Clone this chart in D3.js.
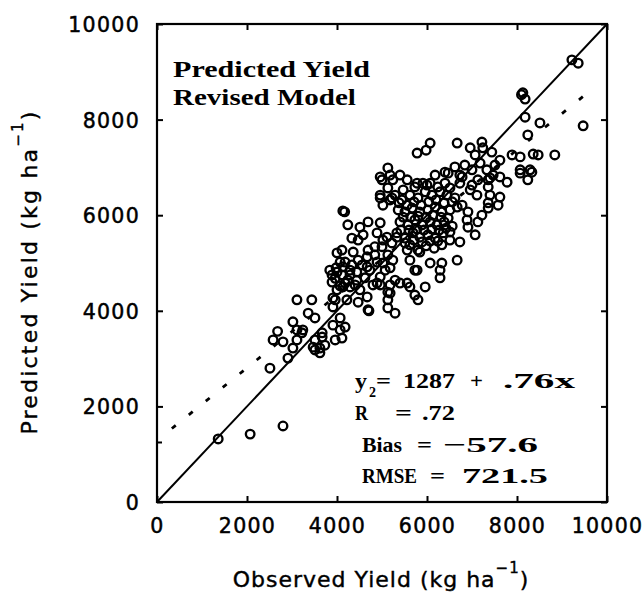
<!DOCTYPE html>
<html><head><meta charset="utf-8">
<script src="https://cdn.jsdelivr.net/npm/d3@7"></script>
<style>body{margin:0;background:#fff}svg{display:block}</style>
</head><body><svg id="c" width="644" height="595"></svg>
<script>
// ---------------- data ----------------
const xTicks = [0, 2000, 4000, 6000, 8000, 10000];
const yTicks = [0, 2000, 4000, 6000, 8000, 10000];
const observed = [
 1360,2070,2800,2510,2910,3020,3110,2800,2580,2680,3020,3110,3240,3360,3510,3110,3440,3670,3470,3620,3730,3620,3960,4110,4070,4180,4070,3910,3670,3960,4000,3910,4130,4470,4690,4670,4890,3910,4220,4960,5180,5130,5130,5290,3220,3510,3510,
 3840,3980,4110,4240,3890,4070,4290,4400,4180,3890,4000,4130,4290,4440,4000,4110,4360,4470,4670,4840,5020,5020,4670,
 4560,4730,4890,5070,4620,4800,4510,4960,5180,5240,5000,5220,4890,5110,5330,5560,5620,5780,5400,5620,5960,4290,
 4130,4170,4240,4510,4690,4960,4330,4470,4580,
 5130,5240,5130,4960,5020,5180,5000,5400,5560,5180,5780,6000,4960,5220,4960,
 5290,5440,5620,5800,5960,6110,6290,6440,6620,5360,5510,5670,5840,6020,6180,6330,6510,6670,5400,5580,5730,5890,6070,6220,6380,6560,5330,5510,5690,5840,6020,6180,6360,6510,5620,5800,5980,6160,6330,5470,5730,5910,6240,6510,
 6180,6470,6780,6070,6400,6730,7000,7360,7620,7780,8070,8240,7110,7400,7620,7360,7580,6910,6890,7130,6910,6730,6510,6670,6330,6070,6290,6290,5730,5840,5730,5560,5800,
 9220,9360,8130,8180,8100,8180,8510,8240,9470,8840,8360,8470,8290,7890,8070,7620,6670,6070,6960,7220,7240,7070,7440,6620,6400,5980,5780,8070,8330,7470,7360,7130,7360,6840,7000,7180,7330,7510,6730,7400,5180,4710,
 5380,5560,5710,5870,6040,6200,6380,6560,5470,5640,5800,5980,6130,6310,6470,5420,5600,5780,5930,6110,6270,6420,5510,5710,5890,6070,6240,
 3960,4180,4330,4070,4440,4690,4840,5130,5290,5130,6780,6960,7220,7070
];
const predicted = [
 1320,1420,1590,2800,3010,3220,3390,3350,3390,3570,3770,3600,3600,3950,3850,4230,4230,3450,3240,3220,3280,3120,3390,3430,3600,3660,3850,3700,3540,4230,4440,4080,4500,4180,4020,4290,4580,4270,4230,4540,4540,4230,4060,3950,3540,3390,3180,
 4850,4900,4750,4640,4600,4520,4850,4540,5020,4750,4810,4920,4750,4640,5210,5270,5230,5060,5130,5340,5480,5000,4920,
 4960,4850,5020,4850,4690,4540,4440,4710,4900,5060,5340,5420,5630,5540,5630,5270,5060,4850,4580,4500,4500,4500,
 6090,6070,5800,5750,5860,5840,5520,5480,5590,
 6990,6740,6570,6360,6210,6320,6740,6840,6740,6840,6670,6630,6800,6360,6420,
 6420,6320,6420,6360,6490,6420,6490,6420,6360,6110,6070,6150,6070,6110,6170,6070,6110,6170,5860,5800,5900,5800,5860,5800,5860,5770,5540,5520,5630,5540,5590,5520,5630,5650,5380,5270,5360,5310,5380,6530,6590,6670,6590,6570,
 6840,6880,6800,6670,6670,6670,6630,6740,6800,6690,6880,6740,6420,6420,6380,6260,6210,6070,5900,5860,5750,5440,5480,5060,5000,5000,4850,4690,4850,5230,4330,4580,4230,
 9250,9180,8560,8430,8520,8050,7930,7680,7870,7260,7280,7260,6950,7260,7220,7150,7510,7510,7410,7530,7410,7260,7320,7010,6900,7360,7300,6950,6900,6840,6590,6740,6150,7050,6950,7090,6950,7050,6840,6780,4370,4000,
 6260,6210,6280,6210,6280,6320,6260,6280,5960,5960,5980,5960,6000,5960,5940,5690,5690,5710,5690,5710,5690,5730,5420,5480,5440,5460,5460,
 4680,4580,4960,5020,4810,5270,5170,5170,4640,4390,6210,6530,6000,5590
];
const fitIntercept = 1287, fitSlope = 0.76;
const fitRange = [330, 9750];
const oneToOne = [0, 10000];
const titleLines = ["Predicted Yield", "Revised Model"];
const xTitle = ["Observed Yield (kg ha", "\u22121", ")"];
const yTitle = ["Predicted Yield (kg ha", "\u22121", ")"];

// ---------------- layout ----------------
const svg = d3.select("#c");
const L = 157, R = 607, T = 24, B = 502;
const x = d3.scaleLinear().domain([0, 10000]).range([L, R]);
const y = d3.scaleLinear().domain([0, 10000]).range([B, T]);
const sans = "'DejaVu Sans', sans-serif";
const serif = "'Liberation Serif', serif";

function styleAxis(g) {
  g.select(".domain").remove();
  g.selectAll(".tick line").attr("stroke", "#000").attr("stroke-width", 2);
  g.attr("font-family", sans).attr("font-size", 20.5);
  g.selectAll("text").attr("fill", "#000").attr("stroke", "#000").attr("stroke-width", 0.5).attr("letter-spacing", 1.3);
}
const gB = svg.append("g").attr("transform", `translate(0,${B})`)
  .call(d3.axisBottom(x).tickValues(xTicks).tickSizeInner(-6).tickSizeOuter(0).tickFormat(d3.format("d")));
styleAxis(gB);
gB.selectAll("text").attr("y", 31).attr("dy", null);

const gL = svg.append("g").attr("transform", `translate(${L},0)`)
  .call(d3.axisLeft(y).tickValues(yTicks).tickSizeInner(-6).tickSizeOuter(0).tickFormat(d3.format("d")));
styleAxis(gL);
gL.selectAll("text").attr("x", -17).attr("dy", null).attr("y", 7.5);

const gT = svg.append("g").attr("transform", `translate(0,${T})`)
  .call(d3.axisTop(x).tickValues(xTicks).tickSizeInner(-6).tickSizeOuter(0).tickFormat(() => ""));
styleAxis(gT);
const gR = svg.append("g").attr("transform", `translate(${R},0)`)
  .call(d3.axisRight(y).tickValues(yTicks).tickSizeInner(-6).tickSizeOuter(0).tickFormat(() => ""));
styleAxis(gR);
// small intercept mark on the left axis
svg.append("line").attr("x1", L).attr("x2", L + 5).attr("y1", y(fitIntercept) + 2).attr("y2", y(fitIntercept) + 2)
  .attr("stroke", "#000").attr("stroke-width", 2);

svg.append("rect").attr("x", L).attr("y", T).attr("width", R - L).attr("height", B - T)
  .attr("fill", "none").attr("stroke", "#000").attr("stroke-width", 2.2);

// lines
const line = d3.line().x(d => x(d[0])).y(d => y(d[1]));
svg.append("path").datum(oneToOne.map(v => [v, v])).attr("d", line)
  .attr("stroke", "#000").attr("stroke-width", 2).attr("fill", "none");
svg.append("path").datum(fitRange.map(v => [v, fitIntercept + fitSlope * v])).attr("d", line)
  .attr("stroke", "#000").attr("stroke-width", 2.8).attr("fill", "none")
  .attr("stroke-dasharray", "5,16.8");

// points
svg.append("g").selectAll("circle").data(observed.map((o, i) => [o, predicted[i]])).join("circle")
  .attr("cx", d => x(d[0])).attr("cy", d => y(d[1])).attr("r", 4.3)
  .attr("fill", "none").attr("stroke", "#000").attr("stroke-width", 2.35);

// helper: serif text horizontally scaled to a target width
function fitText(parent, px, py, str, width, size) {
  const t = parent.append("text").attr("x", 0).attr("y", 0).attr("font-family", serif)
    .attr("font-weight", "bold").attr("font-size", size).text(str);
  const w = t.node().getComputedTextLength();
  const sx = width && w ? width / w : 1;
  t.attr("transform", `translate(${px},${py}) scale(${sx},1)`);
  return t;
}

// title in plot
fitText(svg, 173, 77, titleLines[0], 197, 22.5);
fitText(svg, 173, 105, titleLines[1], 183, 22.5);

// stats block
const stats = [
  [355, 388, "y", 12], [376, 388, "=", 15], [403, 388, "1287", 52], [470, 388, "+", 13], [503, 388, ".76x", 72],
  [355, 420, "R", 13], [395, 420, "=", 17], [422, 420, ".72", 33],
  [362, 452, "Bias", 40], [417, 452, "=", 15], [443, 452, "\u221257.6", 95],
  [362, 483, "RMSE", 55], [430, 483, "=", 15], [462, 483, "721.5", 86]
];
const sg = svg.append("g");
stats.forEach(s => fitText(sg, s[0], s[1], s[2], s[3], 22));
fitText(sg, 369, 397, "2", 0, 14);

// axis titles
const xt = svg.append("text").attr("x", 381).attr("y", 587).attr("text-anchor", "middle")
  .attr("font-family", sans).attr("font-size", 22).attr("letter-spacing", 1)
  .attr("stroke", "#000").attr("stroke-width", 0.4);
xt.append("tspan").text(xTitle[0]);
xt.append("tspan").attr("dy", -14).attr("font-size", 15).text(xTitle[1]);
xt.append("tspan").attr("dy", 14).text(xTitle[2]);

const yt = svg.append("text").attr("transform", "translate(37,272) rotate(-90)").attr("text-anchor", "middle")
  .attr("font-family", sans).attr("font-size", 22).attr("letter-spacing", 2.2)
  .attr("stroke", "#000").attr("stroke-width", 0.4);
yt.append("tspan").text(yTitle[0]);
yt.append("tspan").attr("dy", -14).attr("font-size", 15).text(yTitle[1]);
yt.append("tspan").attr("dy", 14).text(yTitle[2]);
</script>
</body></html>
